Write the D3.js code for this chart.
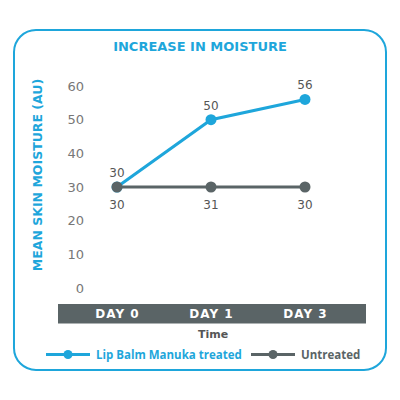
<!DOCTYPE html>
<meta charset="utf-8">
<script src="https://d3js.org/d3.v7.min.js"></script>
<style>
  body { margin: 0; background: #fff; }
  text { font-family: "DejaVu Sans", sans-serif; }
</style>
<div id="chart"></div>
<script>

// data
var days = ["DAY 0", "DAY 1", "DAY 3"];
var treated = [30, 50, 56];
var treatedLabels = ["30", "50", "56"];
var untreated = [30, 30, 30];
var untreatedLabels = ["30", "31", "30"];
var yTicks = [0, 10, 20, 30, 40, 50, 60];

var blue = "#1ea6db",
    grey = "#5a6466",
    tickGrey = "#777";

var svg = d3.select("#chart")
  .append("svg")
    .attr("width", 400)
    .attr("height", 400);

// rounded frame
svg.append("rect")
  .attr("x", 14).attr("y", 30)
  .attr("width", 372).attr("height", 340)
  .attr("rx", 22)
  .attr("fill", "none")
  .attr("stroke", blue)
  .attr("stroke-width", 2);

svg.append("text")
  .attr("x", 200).attr("y", 51)
  .attr("text-anchor", "middle")
  .attr("fill", blue)
  .style("font-size", "13px")
  .style("font-weight", "bold")
  .text("INCREASE IN MOISTURE");

// scales
var x = d3.scalePoint()
  .domain(days)
  .range([117, 305]);

var y = d3.scaleLinear()
  .domain([0, 60])
  .range([288, 86]);

// y axis (labels only)
var yAxis = svg.append("g")
  .attr("transform", "translate(84,0)")
  .call(d3.axisLeft(y).tickValues(yTicks).tickSize(0).tickPadding(0));
yAxis.select(".domain").remove();
yAxis.selectAll("text")
  .attr("fill", tickGrey)
  .style("font-size", "13px")
  .style("font-family", "DejaVu Sans, sans-serif");

svg.append("text")
  .attr("transform", "translate(42,175) rotate(-90)")
  .attr("text-anchor", "middle")
  .attr("fill", blue)
  .style("font-size", "12.5px")
  .style("font-weight", "bold")
  .text("MEAN SKIN MOISTURE (AU)");

// x axis band
svg.append("rect")
  .attr("x", 58).attr("y", 304)
  .attr("width", 308).attr("height", 19.5)
  .attr("fill", grey);

var xAxis = svg.append("g")
  .attr("transform", "translate(0,314)")
  .call(d3.axisBottom(x).tickSize(0).tickPadding(0));
xAxis.select(".domain").remove();
xAxis.selectAll("text")
  .attr("fill", "#fff")
  .attr("dy", "0.35em")
  .attr("y", 0)
  .style("font-size", "12px")
  .style("font-weight", "bold")
  .style("letter-spacing", "1px")
  .style("font-family", "DejaVu Sans, sans-serif");

svg.append("text")
  .attr("x", 213).attr("y", 338)
  .attr("text-anchor", "middle")
  .attr("fill", "#555")
  .style("font-size", "11px")
  .style("font-weight", "bold")
  .text("Time");

var line = d3.line()
  .x(function(d, i) { return x(days[i]) })
  .y(function(d) { return y(d) });

function drawSeries(values, labels, color, labelDy) {
  svg.append("path")
    .datum(values)
    .attr("d", line)
    .attr("fill", "none")
    .attr("stroke", color)
    .attr("stroke-width", 3);
  svg.selectAll(null)
    .data(values)
    .enter()
    .append("circle")
      .attr("cx", function(d, i) { return x(days[i]) })
      .attr("cy", function(d) { return y(d) })
      .attr("r", 5.5)
      .attr("fill", color);
  svg.selectAll(null)
    .data(values)
    .enter()
    .append("text")
      .attr("x", function(d, i) { return x(days[i]) })
      .attr("y", function(d) { return y(d) + labelDy })
      .attr("text-anchor", "middle")
      .attr("fill", "#555")
      .style("font-size", "12px")
      .text(function(d, i) { return labels[i] });
}

drawSeries(treated, treatedLabels, blue, -10);
drawSeries(untreated, untreatedLabels, grey, 22);

// legend
var legend = [
  {name: "Lip Balm Manuka treated", color: blue, x: 46},
  {name: "Untreated", color: grey, x: 251}
];
legend.forEach(function(l) {
  svg.append("line")
    .attr("x1", l.x).attr("x2", l.x + 44)
    .attr("y1", 354.5).attr("y2", 354.5)
    .attr("stroke", l.color)
    .attr("stroke-width", 3);
  svg.append("circle")
    .attr("cx", l.x + 22).attr("cy", 354.5)
    .attr("r", 4.5)
    .attr("fill", l.color);
  svg.append("text")
    .attr("x", l.x + 50).attr("y", 358.5)
    .attr("fill", l.color)
    .style("font-size", "11.5px")
    .style("font-weight", "bold")
    .style("font-family", "Open Sans, sans-serif")
    .text(l.name);
});

</script>
